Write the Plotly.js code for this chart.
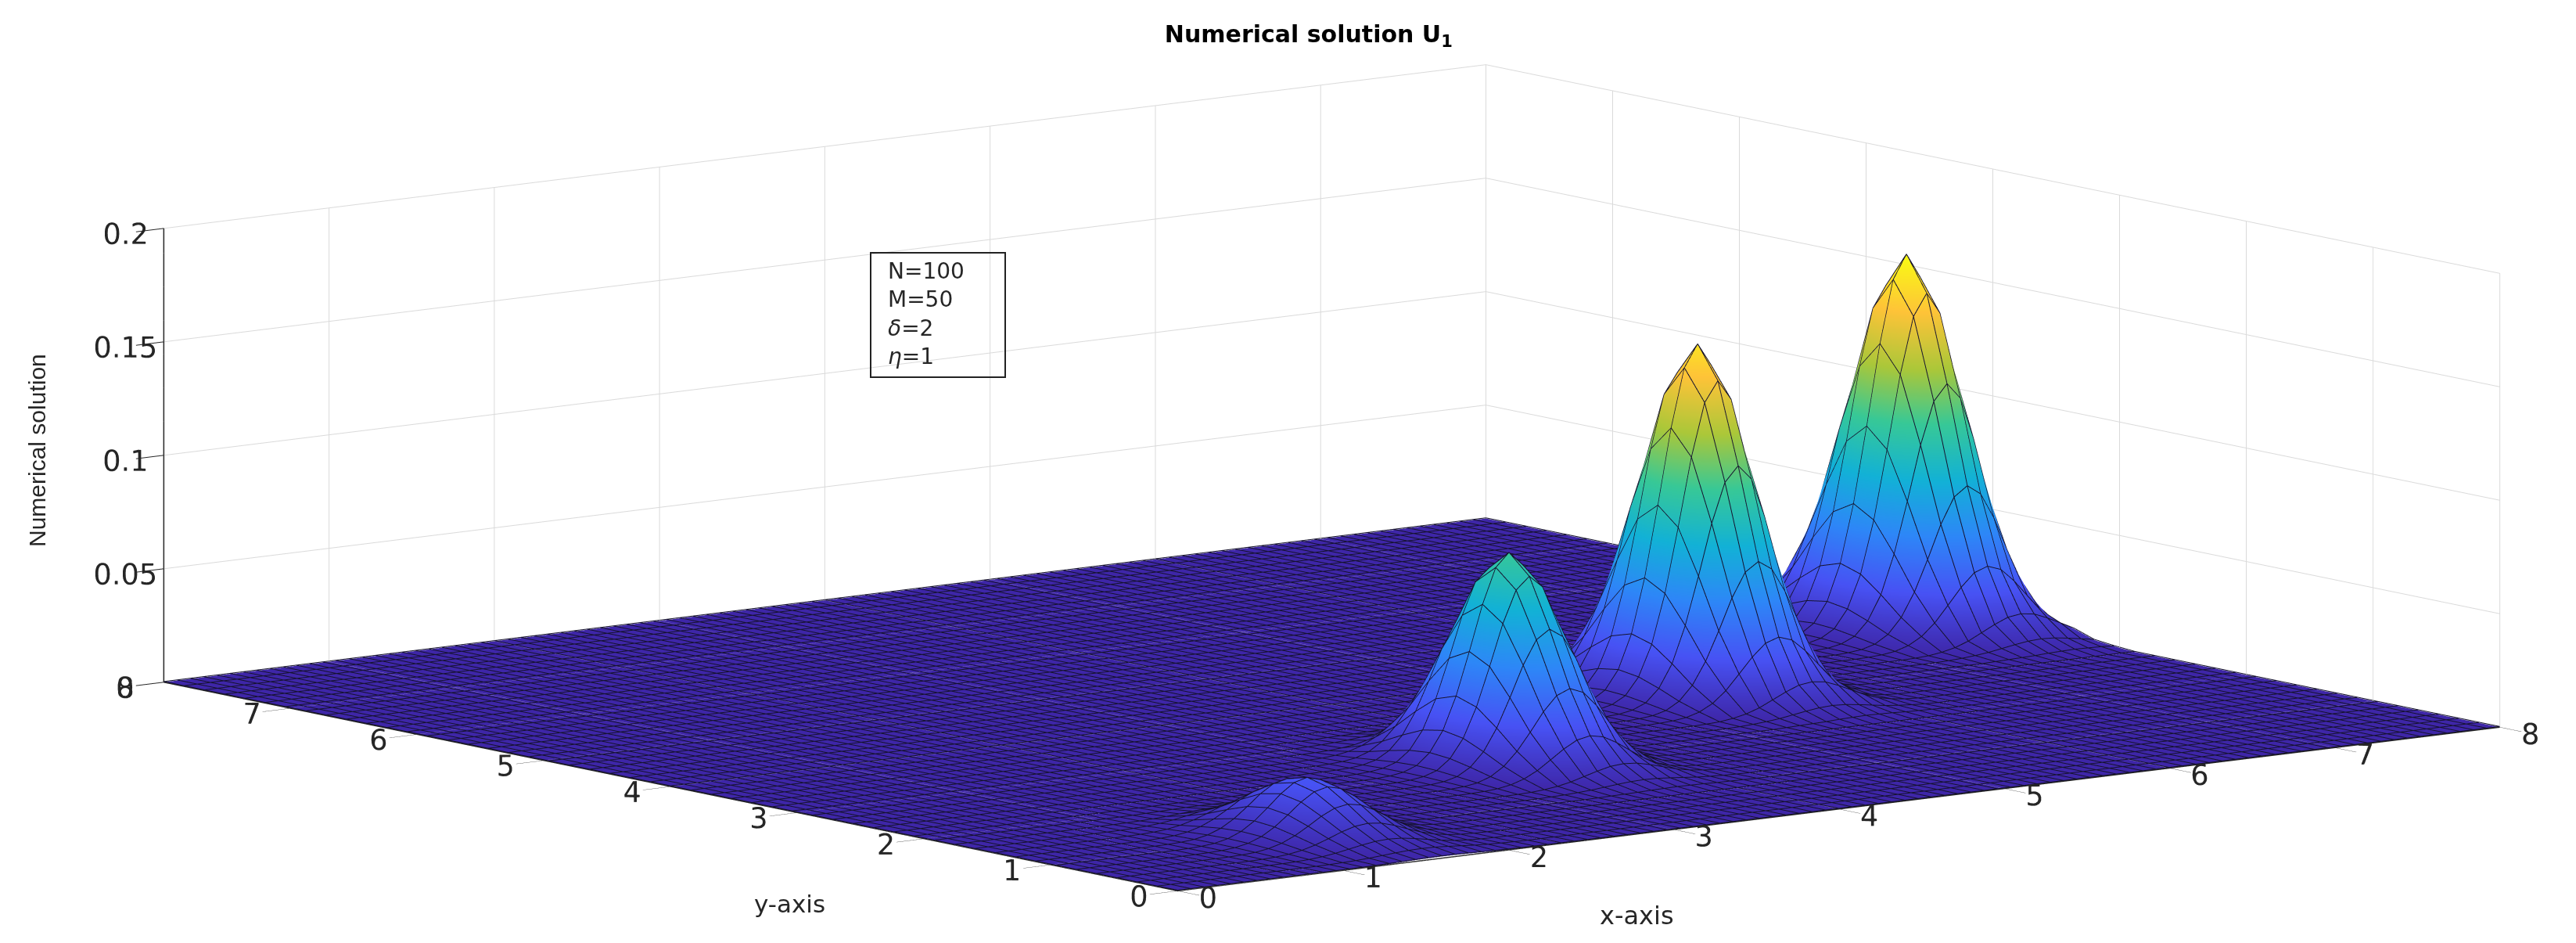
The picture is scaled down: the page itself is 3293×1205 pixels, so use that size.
<!DOCTYPE html>
<html><head><meta charset="utf-8">
<script src="https://cdn.plot.ly/plotly-3.0.1.min.js"></script>
<style>html,body{margin:0;padding:0;background:#fff}#c{width:3293px;height:1205px}</style></head>
<body><div id="c"></div>
<script>
const cellsX = 100, cellsY = 50, span = 8;
const xTicks = [0,1,2,3,4,5,6,7,8];
const yTicks = [0,1,2,3,4,5,6,7,8];
const zTicks = [0,0.05,0.1,0.15,0.2];
const peakHeights = [0.025, 0.0925, 0.1535, 0.164];
const peakColumns = [19, 45, 70, 95];
const peakRows = [6, 13, 20, 26];
// height of one pulse around its crest, per mille of the crest
const pulseShape = [
 [0,0,0,0,0,0,1,2,3,4,6,7,8,7,6,4,3,2,1,0,0],
 [0,0,0,0,1,3,6,10,16,22,27,29,27,22,16,10,6,3,1,0,0],
 [0,0,0,1,3,8,16,29,47,65,80,85,80,65,47,29,16,8,3,1,0],
 [0,1,3,8,19,39,71,114,158,193,206,193,158,114,71,39,19,8,3,1,0],
 [0,2,6,16,38,79,143,226,316,385,411,385,316,226,143,79,38,16,6,2,0],
 [1,3,10,26,63,129,234,371,518,631,674,631,518,371,234,129,63,26,10,3,1],
 [1,5,14,35,84,173,314,499,696,848,906,848,696,499,314,173,84,35,14,5,1],
 [1,5,15,39,93,191,347,551,768,936,1000,936,768,551,347,191,93,39,15,5,1],
 [1,5,14,35,84,173,314,499,696,848,906,848,696,499,314,173,84,35,14,5,1],
 [1,3,10,26,63,129,234,371,518,631,674,631,518,371,234,129,63,26,10,3,1],
 [0,2,6,16,38,79,143,226,316,385,411,385,316,226,143,79,38,16,6,2,0],
 [0,1,3,8,19,39,71,114,158,193,206,193,158,114,71,39,19,8,3,1,0],
 [0,0,0,1,3,8,16,29,47,65,80,85,80,65,47,29,16,8,3,1,0],
 [0,0,0,0,1,3,6,10,16,22,27,29,27,22,16,10,6,3,1,0,0],
 [0,0,0,0,0,0,1,2,3,4,6,7,8,7,6,4,3,2,1,0,0]
];
const parula = [[0,'#3E26A8'],[0.1429,'#4752F4'],[0.2857,'#2D87F7'],[0.4286,'#12B1D6'],[0.5714,'#37C897'],[0.7143,'#ABC739'],[0.8571,'#FEC338'],[1,'#F9FB14']];

const xs = Array.from({length: cellsX + 1}, (_, i) => i * span / cellsX);
const ys = Array.from({length: cellsY + 1}, (_, j) => j * span / cellsY);
const zs = ys.map(() => xs.map(() => 0));
peakHeights.forEach((h, p) => {
  pulseShape.forEach((line, r) => line.forEach((v, c) => {
    const row = peakRows[p] + r - 7, col = peakColumns[p] + c - 10;
    if (row >= 0 && row <= cellsY && col >= 0 && col <= cellsX) zs[row][col] = h * v / 1000;
  }));
});
// mesh lines of the surface, lifted a hair so that they sit on top of it
const lift = 0.0003;
const mx = [], my = [], mz = [];
xs.forEach((x, c) => { ys.forEach((y, r) => { mx.push(x); my.push(y); mz.push(zs[r][c] + lift); }); mx.push(null); my.push(null); mz.push(null); });
ys.forEach((y, r) => { xs.forEach((x, c) => { mx.push(x); my.push(y); mz.push(zs[r][c] + lift); }); mx.push(null); my.push(null); mz.push(null); });

const tickFont = {family: 'DejaVu Sans', size: 21, color: '#262626'};
const axis = (range, ticks) => ({range, tickmode: 'array', tickvals: ticks, ticktext: ticks.map(String), tickangle: 0, showgrid: true, gridcolor: '#dadada', gridwidth: 2,
  zeroline: false, showline: true, linecolor: '#262626', linewidth: 3, ticks: 'outside', ticklen: 45, tickcolor: '#262626', tickwidth: 2,
  tickfont: tickFont, showbackground: false, showspikes: false, title: {text: ''}});
const px = (x, y) => ({x: x / 3293, y: 1 - y / 1205, xref: 'paper', yref: 'paper', showarrow: false, xanchor: 'center', yanchor: 'middle'});
Plotly.newPlot('c', [
  {type: 'surface', x: xs, y: ys, z: zs, colorscale: parula, cmin: 0, cmax: 0.164, showscale: false, hoverinfo: 'skip',
   lighting: {ambient: 1, diffuse: 0, specular: 0, roughness: 1, fresnel: 0}},
  {type: 'scatter3d', mode: 'lines', x: mx, y: my, z: mz, connectgaps: false, hoverinfo: 'skip', showlegend: false,
   line: {color: '#15122e', width: 2}}],
 {width: 3293, height: 1205, paper_bgcolor: '#fff', margin: {l: 0, r: 0, t: 0, b: 0}, showlegend: false,
  title: {text: '<b>Numerical solution U<sub>1</sub></b>', x: 0.508, xanchor: 'center', y: 0.964, yanchor: 'middle', font: {family: 'DejaVu Sans', size: 30, color: '#000'}},
  scene: {domain: {x: [0.034, 1], y: [0, 1]}, aspectmode: 'manual', aspectratio: {x: 3.55, y: 3.51, z: 0.975},
    camera: {projection: {type: 'orthographic'}, up: {x: 0, y: 0, z: 1}, center: {x: 0, y: 0, z: 0.0135}, eye: {x: -4.84, y: -6.24, z: 1.29}},
    xaxis: axis([0, 8], xTicks), yaxis: axis([0, 8], yTicks), zaxis: axis([0, 0.2], zTicks)},
  shapes: [{type: 'rect', xref: 'paper', yref: 'paper', x0: 1113 / 3293, x1: 1285 / 3293, y0: 1 - 482 / 1205, y1: 1 - 323 / 1205, line: {color: '#222', width: 2}}],
  annotations: [
    Object.assign(px(2092, 1170), {text: 'x-axis', font: {family: 'DejaVu Sans', size: 32, color: '#262626'}}),
    Object.assign(px(1010, 1155), {text: 'y-axis', font: {family: 'DejaVu Sans', size: 31, color: '#262626'}}),
    Object.assign(px(47, 576), {text: 'Numerical solution', textangle: -90, font: {family: 'Liberation Sans', size: 30, color: '#262626'}}),
    Object.assign(px(1133, 401), {xanchor: 'left', align: 'left',
      text: 'N=100<br>M=50<br><i>δ</i>=2<br><i>η</i>=1', font: {family: 'DejaVu Sans', size: 28, color: '#262626'}})
  ]}, {displayModeBar: false});
</script></body></html>
